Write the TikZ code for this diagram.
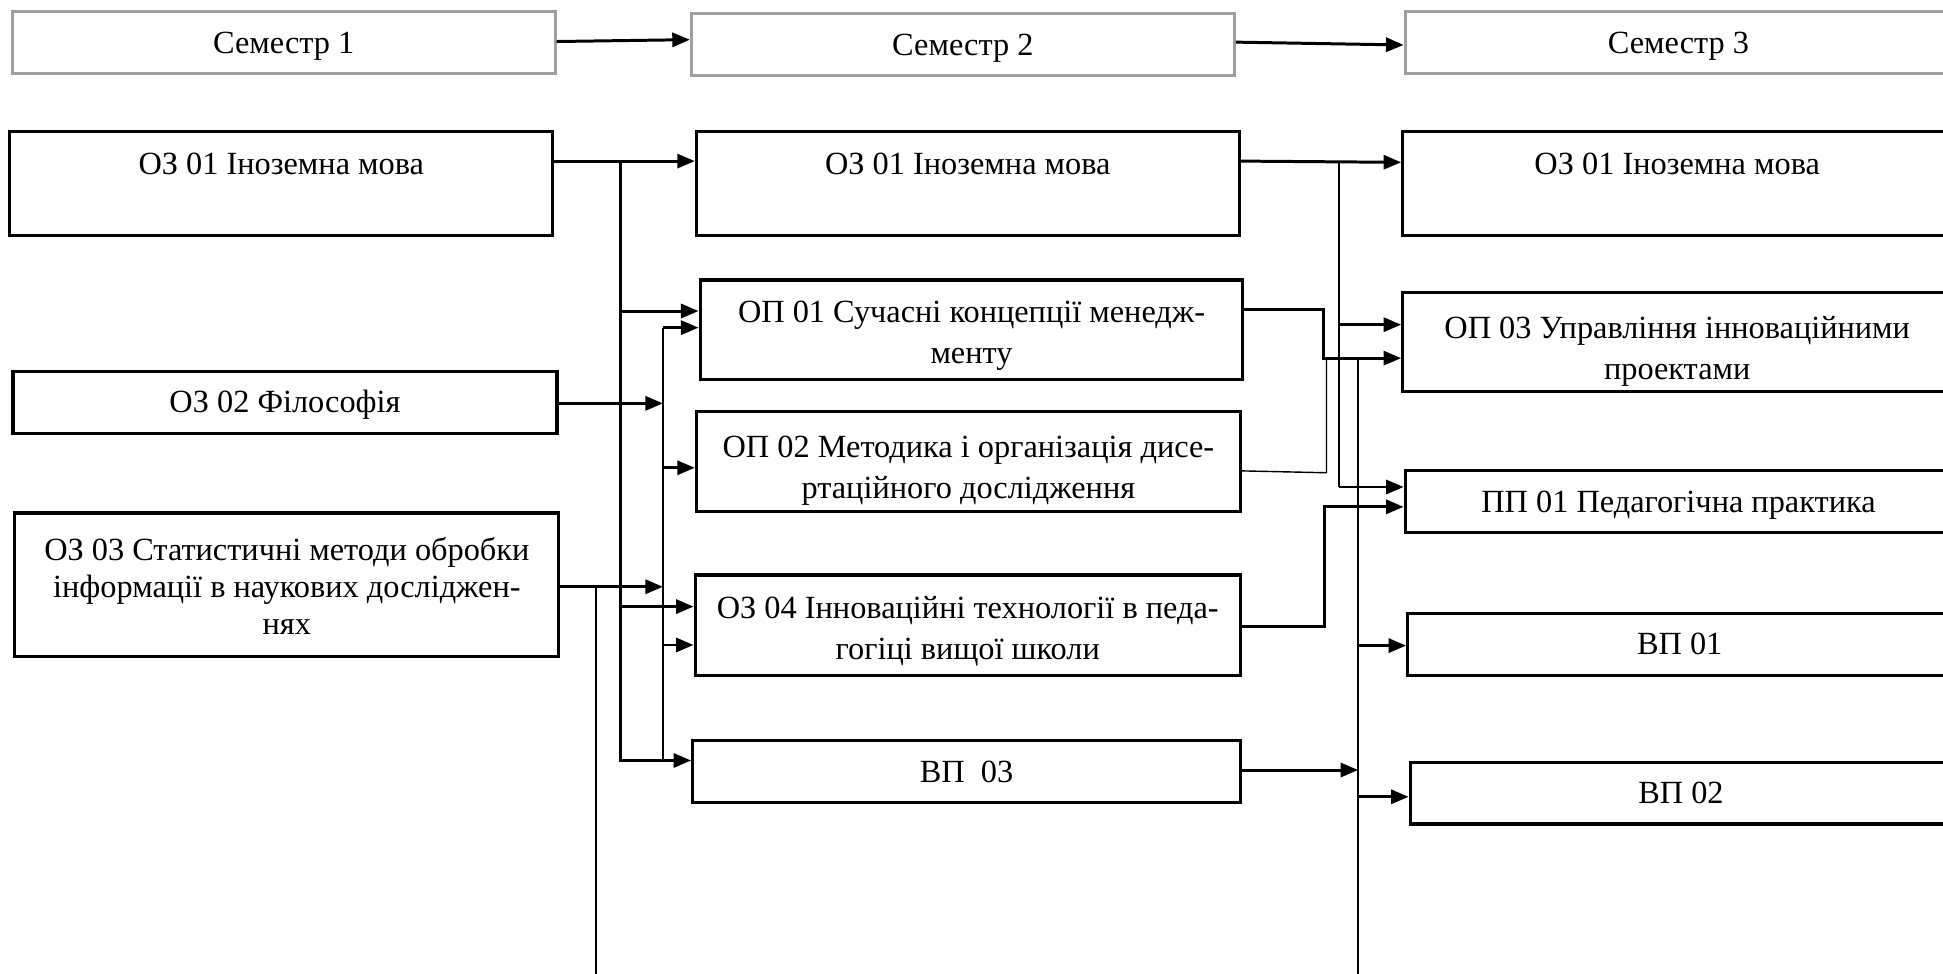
\documentclass[tikz,border=0pt]{standalone}
\usepackage{fontspec}
\setmainfont{Liberation Serif}
\usetikzlibrary{arrows.meta,calc}
\newdimen\pxu \pxu=0.012392cm
\newcommand{\subjtext}[2]{\parbox[t]{430\pxu}{\centering\fontsize{9.2}{#1}\selectfont #2}}

\tikzset{
  sembox/.style={draw=gray!75, line width=0.9pt, minimum width=#1*\pxu, minimum height=50*\pxu, inner sep=0pt, text height=6.3pt, text depth=0.3pt},
  subj/.style 2 args={draw, line width=0.9pt, minimum width=#1*\pxu, minimum height=#2*\pxu, inner sep=0pt, text height=6.3pt, text depth=0.3pt},
  toptext/.style={text height=6.5pt, text depth=#1},
  link/.style={line width=0.85pt},
  wire/.style={line width=0.4pt},
  arr/.style={-{Triangle[length=5pt,width=4pt]}}
}

\begin{document}
\begin{tikzpicture}[x=0.012392cm, y=-0.012392cm, font=\fontsize{9.2}{11}\selectfont]
\useasboundingbox (0,0) rectangle (1568,786);

\node[sembox=438] (sem1) at (229,34.5) {Семестр 1};
\node[sembox=438] (sem2) at (777,36) {Семестр 2};
\node[sembox=441] (sem3) at (1354.5,34.3) {Семестр 3};

\node[subj={438}{84}, toptext=11.7pt] (a1) at (227,148) {ОЗ 01 Іноземна мова};
\node[subj={439}{50}] (a2) at (230,324.5) {ОЗ 02 Філософія};
\node[subj={439}{116}, toptext=20.6pt] (a3) at (231.5,472) {\subjtext{10.6pt}{ОЗ 03 Статистичні методи обробки\\інформації в наукових досліджен-\\нях}};

\node[subj={438}{84}, toptext=11.7pt] (b1) at (781,148) {ОЗ 01 Іноземна мова};
\node[subj={438}{80}, toptext=10.3pt] (b2) at (784,266) {\subjtext{11.6pt}{ОП 01 Сучасні концепції менедж-\\менту}};
\node[subj={439}{81}, toptext=8.6pt] (b3) at (781.5,372.5) {\subjtext{11.6pt}{ОП 02 Методика і організація дисе-\\ртаційного дослідження}};
\node[subj={440}{81}, toptext=10.4pt] (b4) at (781,504.5) {\subjtext{11.6pt}{ОЗ 04 Інноваційні технології в педа-\\гогіці вищої школи}};
\node[subj={442}{50}] (b5) at (780,622.7) {ВП\ \ 03};

\node[subj={443}{84}, toptext=11.7pt] (c1) at (1353.5,148) {ОЗ 01 Іноземна мова};
\node[subj={443}{79.5}, toptext=8.6pt] (c2) at (1353.5,276) {\subjtext{11.6pt}{ОП 03 Управління інноваційними\\проектами}};
\node[subj={441}{50}] (c3) at (1354.5,405) {ПП 01 Педагогічна практика};
\node[subj={439}{50}] (c4) at (1355.5,520) {ВП 01};
\node[subj={437}{50}] (c5) at (1356.5,640) {ВП 02};

\draw[link,arr] ($(sem1.east)+(0,-1)$) -- ($(sem2.west)+(0,-4)$);
\draw[link,arr] ($(sem2.east)+(0,-2)$) -- ($(sem3.west)+(0,2)$);

\coordinate (bus) at (501,0);
\coordinate (feed) at (535,0);
\coordinate (drop) at (481,786);
\coordinate (b2i) at ($(b2.west)+(0,-15)$);
\coordinate (b2j) at ($(b2.west)+(0,-1.6)$);
\coordinate (b3i) at ($(b3.west)+(0,5)$);
\coordinate (b4i) at ($(b4.west)+(0,-15)$);
\coordinate (b4j) at ($(b4.west)+(0,16)$);
\coordinate (b5i) at ($(b5.west)+(0,-9)$);

\draw[link,arr] ($(a1.east)+(0,-18)$) coordinate (a1o) -- (a1o -| b1.west);
\draw[link,arr] (bus |- a1o) |- (b5i);
\draw[link,arr] (bus |- b2i) -- (b2i);
\draw[link,arr] (bus |- b4i) -- (b4i);
\draw[wire] (feed |- b2j) -- (feed |- b5i);
\draw[link,arr] (feed |- b2j) -- (b2j);
\draw[link,arr] (feed |- b3i) -- (b3i);
\draw[link,arr] (feed |- b4j) -- (b4j);
\draw[link,arr] ($(a2.east)+(0,1)$) coordinate (a2o) -- (feed |- a2o);
\draw[link,arr] ($(a3.east)+(0,1.5)$) coordinate (a3o) -- (feed |- a3o);
\draw[wire] (drop |- a3o) -- (drop);

\coordinate (tap) at (1080.5,0);
\coordinate (knee1) at (1068,0);
\coordinate (knee2) at (1070.5,0);
\coordinate (knee3) at (1069,0);
\coordinate (tail) at (1096,786);
\coordinate (c1i) at ($(c1.west)+(0,-17)$);
\coordinate (c2a) at ($(c2.west)+(0,-14)$);
\coordinate (c2b) at ($(c2.west)+(0,13)$);
\coordinate (c3a) at ($(c3.west)+(0,-12)$);
\coordinate (c3b) at ($(c3.west)+(0,4)$);
\coordinate (c4i) at ($(c4.west)+(0,1)$);
\coordinate (c5i) at ($(c5.west)+(0,3)$);

\draw[link,arr] ($(b1.east)+(0,-18)$) -- (c1i);
\draw[wire] (tap |- c1i) -- (tap |- c3a);
\draw[link,arr] (tap |- c2a) -- (c2a);
\draw[link,arr] (tap |- c3a) -- (c3a);
\draw[link,arr] ($(b2.east)+(0,-16.5)$) -| (knee1 |- c2b) -- (c2b);
\draw[wire] ($(b3.east)+(0,7.5)$) -- ($(knee2 |- b3.east)+(0,9)$) -- (knee2 |- c2b);
\draw[link,arr] ($(b4.east)+(0,1.2)$) -| (knee3 |- c3b) -- (c3b);
\draw[wire] (tail |- c2b) -- (tail);
\draw[link,arr] (tail |- c4i) -- (c4i);
\draw[link,arr] (tail |- c5i) -- (c5i);
\draw[link,arr] ($(b5.east)+(0,-1.3)$) coordinate (b5o) -- (tail |- b5o);
\end{tikzpicture}
\end{document}
